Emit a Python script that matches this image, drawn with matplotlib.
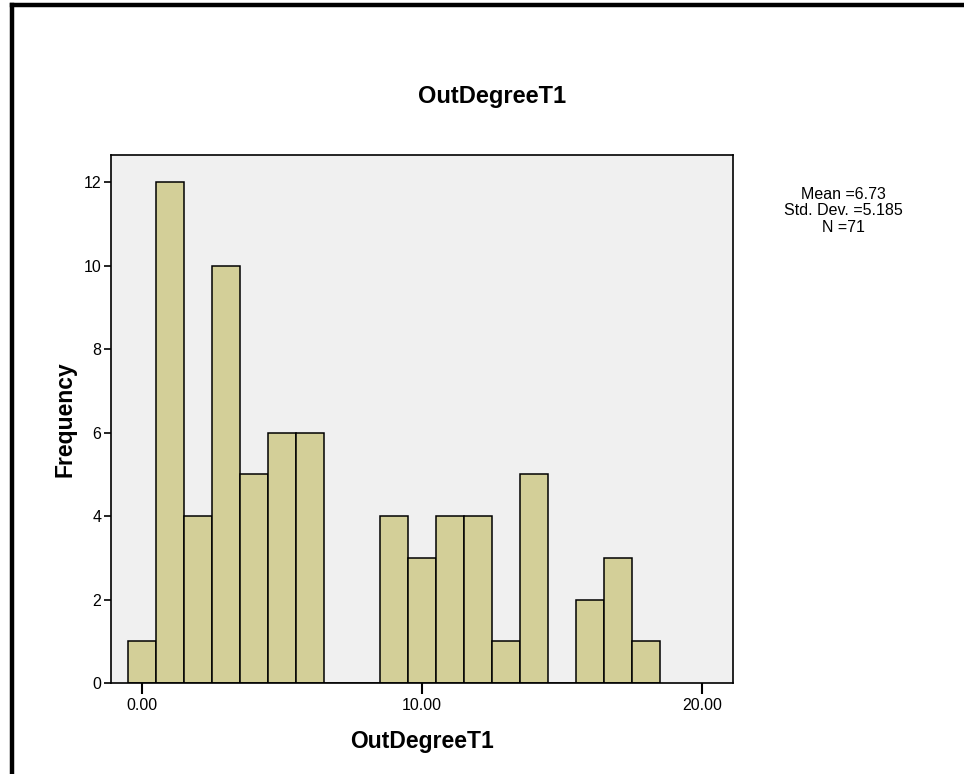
import matplotlib
matplotlib.use("Agg")
import matplotlib.pyplot as plt
from matplotlib.lines import Line2D

plt.rcParams['font.family'] = ['Liberation Sans', 'DejaVu Sans']

# OutDegreeT1 values and how often each occurs
values = [0, 1, 2, 3, 4, 5, 6, 7, 8, 9, 10, 11, 12, 13, 14, 15, 16, 17, 18]
counts = [1, 12, 4, 10, 5, 6, 6, 0, 0, 4, 3, 4, 4, 1, 5, 0, 2, 3, 1]
x_ticks = [0, 10, 20]
x_tick_labels = ["0.00", "10.00", "20.00"]
y_ticks = [0, 2, 4, 6, 8, 10, 12]
stats_lines = ["Mean =6.73", "Std. Dev. =5.185", "N =71"]

fig = plt.figure(figsize=(9.64, 7.74), dpi=100)
fig.patch.set_facecolor("white")

ax = fig.add_axes([111 / 964, 91 / 774, 622 / 964, 528 / 774])
ax.set_facecolor("#f0f0f0")

# bars centered on each integer value
ax.bar(values, counts, width=1.0, color="#d3cf98", edgecolor="black", linewidth=1.1)

ax.set_xlim(-1.107, 21.1)
ax.set_ylim(0, 12.65)
ax.set_xticks(x_ticks)
ax.set_xticklabels(x_tick_labels)
ax.set_yticks(y_ticks)
ax.tick_params(axis="x", direction="out", length=8, width=1.5, labelsize=11.5, pad=3)
ax.tick_params(axis="y", direction="out", length=5, width=1.2, labelsize=11.5, pad=2)
for s in ax.spines.values():
    s.set_linewidth(1.2)

ax.set_xlabel("OutDegreeT1", fontsize=16.5, fontweight="bold", labelpad=12)
ax.set_ylabel("Frequency", fontsize=16.5, fontweight="bold", labelpad=5)

fig.text(492 / 964, 1 - 97 / 774, "OutDegreeT1", ha="center", va="center",
         fontsize=17, fontweight="bold")

# summary box text at the right
for i, line in enumerate(stats_lines):
    fig.text(843 / 964, 1 - (194 + i * 16.5) / 774, line, ha="center", va="center",
             fontsize=11.5)

# thick frame along the top and left edges
fig.add_artist(Line2D([12 / 964, 1.0], [1 - 5 / 774, 1 - 5 / 774], color="black",
                      linewidth=3.2, transform=fig.transFigure))
fig.add_artist(Line2D([12 / 964, 12 / 964], [0, 1 - 5 / 774], color="black",
                      linewidth=3.2, transform=fig.transFigure))

fig.savefig("out.png", dpi=100)
